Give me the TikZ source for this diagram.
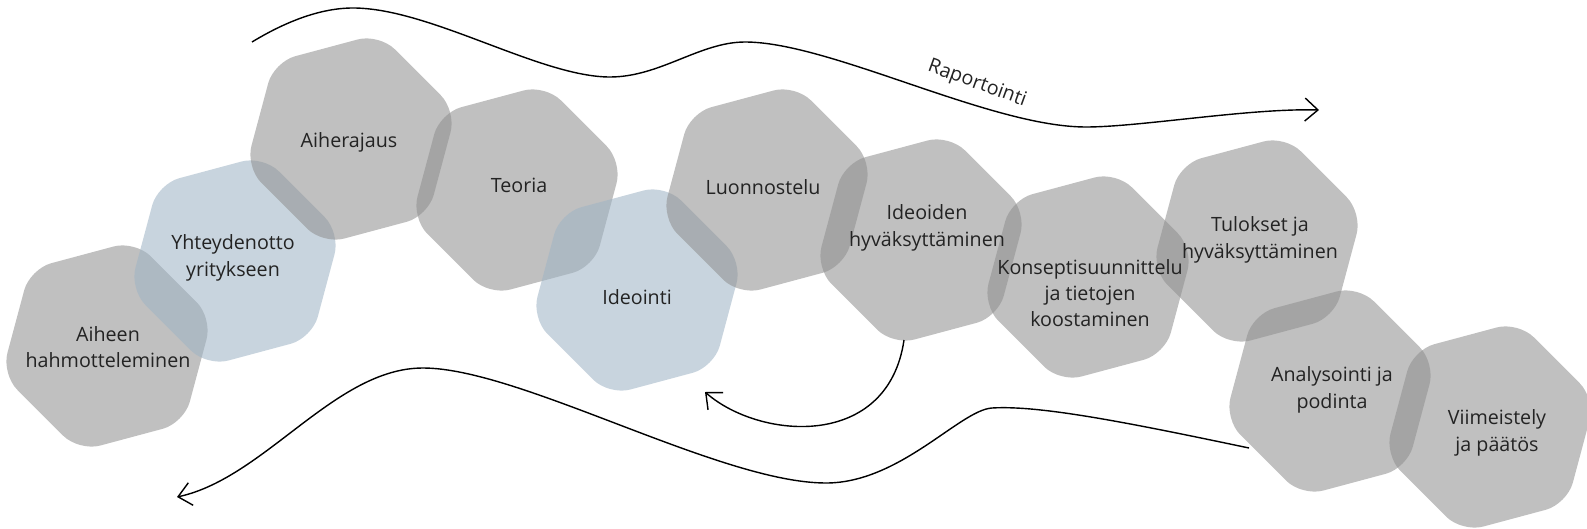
\documentclass[tikz,border=0pt]{standalone}
\usepackage{fontspec}
\setmainfont{Open Sans}
\usetikzlibrary{shapes.geometric,arrows.meta}
\definecolor{hexgray}{RGB}{144,144,144}
\definecolor{hexblue}{RGB}{159,180,197}
\definecolor{txtgray}{RGB}{35,35,35}

\begin{document}
\begin{tikzpicture}[x=0.2mm, y=-0.2mm, >={Straight Barb[length=2.6mm,width=4.6mm]},
    hexa/.style={regular polygon, regular polygon sides=6, minimum size=43.6mm, inner sep=0pt,
        rotate=15, rounded corners=4.4mm, fill=hexgray, fill opacity=0.57},
    hexb/.style={hexa, fill=hexblue},
    lbl/.style={align=center, text=txtgray, font=\fontsize{11.2}{15}\selectfont},
    flow/.style={->, line width=0.8pt}]

    \useasboundingbox (0,0) rectangle (1587,529);

                % Hexagons
                \node[hexa] (aiheen) at (107,346) {};
                \node[hexb] (yhteys) at (235,261) {};
                \node[hexa] (aiherajaus) at (351,139) {};
                \node[hexa] (teoria) at (517,190) {};
                \node[hexb] (ideointi) at (637,290) {};
                \node[hexa] (luonnostelu) at (767,190) {};
                \node[hexa] (ideoiden) at (921,240) {};
                \node[hexa] (konsepti) at (1088,277) {};
                \node[hexa] (tulokset) at (1257,241) {};
                \node[hexa] (analysointi) at (1330,391) {};
                \node[hexa] (viimeistely) at (1490,427) {};

                % Labels
                \node[lbl] (aiheen-t) at (108,347) {Aiheen\\hahmotteleminen};
                \node[lbl] (yhteys-t) at (233,258) {Yhteydenotto\\yritykseen};
                \node[lbl] (aiherajaus-t) at (349,142) {Aiherajaus};
                \node[lbl] (teoria-t) at (519,185) {Teoria};
                \node[lbl] (ideointi-t) at (637,297) {Ideointi};
                \node[lbl] (luonnostelu-t) at (763,187) {Luonnostelu};
                \node[lbl] (ideoiden-t) at (927,228) {Ideoiden\\hyväksyttäminen};
                \node[lbl] (konsepti-t) at (1090,293) {Konseptisuunnittelu\\ja tietojen\\koostaminen};
                \node[lbl] (tulokset-t) at (1260,240) {Tulokset ja\\hyväksyttäminen};
                \node[lbl] (analysointi-t) at (1332,390) {Analysointi ja\\podinta};
                \node[lbl] (viimeistely-t) at (1497,433) {Viimeistely\\ja päätös};
                \node[lbl, rotate=-20] (raportointi) at (977,84) {Raportointi};

                % Flow ends
                \coordinate (rap-start) at (252,42);
                \coordinate (rap-end) at (1319,110);
                \coordinate (back-start) at (1249,448);
                \coordinate (back-end) at (177,497);
                \coordinate (idea-start) at (904,340);
                \coordinate (idea-end) at (705,392);

                % Flows
                \draw[flow] (rap-start) .. controls (285,22) and (320,8) .. (353,8)
                    .. controls (430,8) and (540,77) .. (610,77)
                    .. controls (660,77) and (700,42) .. (745,42)
                    .. controls (830,42) and (990,127) .. (1086,127)
                    .. controls (1140,127) and (1250,108) .. (rap-end);
                \draw[flow] (back-start) .. controls (1130,423) and (1040,405) .. (992,408)
                    .. controls (960,410) and (900,483) .. (826,483)
                    .. controls (720,483) and (520,368) .. (423,368)
                    .. controls (335,368) and (265,478) .. (back-end);
                \draw[flow] (idea-start) .. controls (888,450) and (760,440) .. (idea-end);

            \end{tikzpicture}
\end{document}
